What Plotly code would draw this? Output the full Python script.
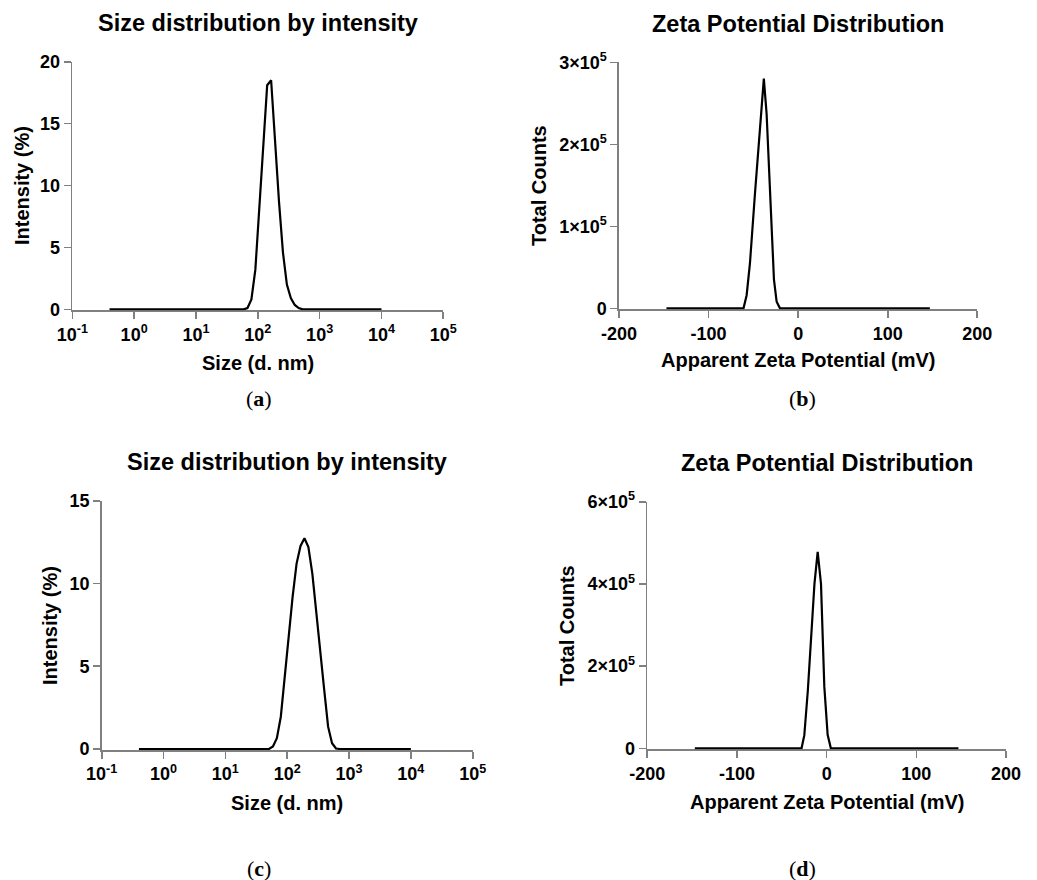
import plotly.graph_objects as go

# ---------------- data ----------------
# (a) size distribution by intensity
size_a = [0.4, 58.77, 68.06, 78.82, 91.28, 105.7, 122.4, 141.8, 164.2, 190.1,
          220.2, 255.0, 295.3, 342.0, 396.1, 458.7, 531.2, 10000]
intensity_a = [0, 0, 0.1, 0.8, 3.2, 8.2, 13.9, 18.1, 18.5, 13.3,
               8.7, 4.6, 2.0, 0.9, 0.35, 0.1, 0, 0]

# (c) size distribution by intensity
size_c = [0.4, 50.75, 58.77, 68.06, 78.82, 91.28, 105.7, 122.4, 141.8, 164.2,
          190.1, 220.2, 255.0, 295.3, 342.0, 396.1, 458.7, 531.2, 615.1, 712.4, 10000]
intensity_c = [0, 0, 0.15, 0.65, 1.95, 4.4, 7.0, 9.2, 11.2, 12.27,
               12.73, 12.2, 10.6, 8.4, 6.0, 3.6, 1.35, 0.35, 0.03, 0, 0]

# (b) zeta potential distribution
zeta_b = [-147, -61, -57.5, -53.8, -48.2, -44.5, -38.3, -35.2, -30.7, -27.0, -24.0, -20.3, 147]
counts_b = [0, 0, 16000, 55000, 140000, 197000, 280000, 237000, 116000, 35000, 8000, 0, 0]

# (d) zeta potential distribution
zeta_d = [-147, -28, -24.9, -21.0, -17.3, -13.6, -10.0, -6.3, -2.6, 1.1, 4.7, 147]
counts_d = [0, 0, 32000, 140000, 270000, 400000, 478000, 400000, 150000, 33000, 0, 0]

# ticks
size_tickvals = [0.1, 1, 10, 100, 1000, 10000, 100000]
size_ticktext = ["10<sup>-1</sup>", "10<sup>0</sup>", "10<sup>1</sup>", "10<sup>2</sup>",
                 "10<sup>3</sup>", "10<sup>4</sup>", "10<sup>5</sup>"]
int_a_ticks = [0, 5, 10, 15, 20]
int_c_ticks = [0, 5, 10, 15]
zeta_ticks = [-200, -100, 0, 100, 200]
zeta_ticktext = ["-200", "-100", "0", "100", "200"]
counts_b_ticks = [0, 100000, 200000, 300000]
counts_b_text = ["0", "1×10<sup>5</sup>", "2×10<sup>5</sup>", "3×10<sup>5</sup>"]
counts_d_ticks = [0, 200000, 400000, 600000]
counts_d_text = ["0", "2×10<sup>5</sup>", "4×10<sup>5</sup>", "6×10<sup>5</sup>"]

title_size = "Size distribution by intensity"
title_zeta = "Zeta Potential Distribution"
xlabel_size = "Size (d. nm)"
xlabel_zeta = "Apparent Zeta Potential (mV)"
ylabel_size = "Intensity (%)"
ylabel_zeta = "Total Counts"

# ---------------- layout helpers ----------------
W, H = 1037, 880
SANS = "Liberation Sans"
GRAY = "#808080"


def xdom(l, r):
    return [l / W, r / W]


def ydom(t, b):
    return [1 - b / H, 1 - t / H]


def px(x):
    return x / W


def py(y):
    return 1 - y / H


axis_common = dict(
    showline=True, linecolor=GRAY, linewidth=1.6,
    ticks="outside", ticklen=7, tickwidth=1.6, tickcolor=GRAY,
    showgrid=False, zeroline=False, layer="below traces", automargin=False,
    tickfont=dict(family=SANS, size=18, color="black", weight="bold"),
    fixedrange=True,
)

fig = go.Figure()
line = dict(color="black", width=2.2)
fig.add_trace(go.Scatter(x=size_a, y=intensity_a, mode="lines", line=line, xaxis="x", yaxis="y"))
fig.add_trace(go.Scatter(x=zeta_b, y=counts_b, mode="lines", line=line, xaxis="x2", yaxis="y2"))
fig.add_trace(go.Scatter(x=size_c, y=intensity_c, mode="lines", line=line, xaxis="x3", yaxis="y3"))
fig.add_trace(go.Scatter(x=zeta_d, y=counts_d, mode="lines", line=line, xaxis="x4", yaxis="y4"))

layout = dict(
    width=W, height=H, margin=dict(l=0, r=0, t=0, b=0, autoexpand=False),
    paper_bgcolor="white", plot_bgcolor="white", showlegend=False,
    xaxis=dict(axis_common, type="log", range=[-1, 5], domain=xdom(72.3, 443.3), anchor="y",
               tickmode="array", tickvals=size_tickvals, ticktext=size_ticktext),
    yaxis=dict(axis_common, range=[-0.08, 20], domain=ydom(61.7, 310.3), anchor="x",
               tickmode="array", tickvals=int_a_ticks),
    xaxis2=dict(axis_common, range=[-200, 200], domain=xdom(619, 977.3), anchor="y2",
                tickmode="array", tickvals=zeta_ticks, ticktext=zeta_ticktext),
    yaxis2=dict(axis_common, range=[-1200, 300000], domain=ydom(62.3, 309.3), anchor="x2",
                tickmode="array", tickvals=counts_b_ticks, ticktext=counts_b_text),
    xaxis3=dict(axis_common, type="log", range=[-1, 5], domain=xdom(101.7, 472.7), anchor="y3",
                tickmode="array", tickvals=size_tickvals, ticktext=size_ticktext),
    yaxis3=dict(axis_common, range=[-0.06, 15], domain=ydom(500.7, 750), anchor="x3",
                tickmode="array", tickvals=int_c_ticks),
    xaxis4=dict(axis_common, range=[-200, 200], domain=xdom(647.3, 1006), anchor="y4",
                tickmode="array", tickvals=zeta_ticks, ticktext=zeta_ticktext),
    yaxis4=dict(axis_common, range=[-2400, 600000], domain=ydom(501.7, 749.3), anchor="x4",
                tickmode="array", tickvals=counts_d_ticks, ticktext=counts_d_text),
)
fig.update_layout(**layout)


def ann(text, x, y, size, family=SANS, angle=0, bold=True):
    fig.add_annotation(
        text=text, x=px(x), y=py(y), xref="paper", yref="paper",
        xanchor="center", yanchor="middle", showarrow=False, textangle=angle,
        font=dict(family=family, size=size, color="black", weight="bold" if bold else "normal"),
    )


# titles
ann(title_size, 258, 23, 23.5)
ann(title_zeta, 798, 24, 23.5)
ann(title_size, 287, 462, 23.5)
ann(title_zeta, 827, 463, 23.5)
# x axis titles
ann(xlabel_size, 258, 363, 20)
ann(xlabel_zeta, 798, 360, 20)
ann(xlabel_size, 287, 803, 20)
ann(xlabel_zeta, 827, 802, 20)
# y axis titles
ann(ylabel_size, 22, 186, 20, angle=-90)
ann(ylabel_zeta, 539, 186, 20, angle=-90)
ann(ylabel_size, 50, 626, 20, angle=-90)
ann(ylabel_zeta, 567, 626, 20, angle=-90)
# panel labels
SERIF = "Liberation Serif"
ann("(<b>a</b>)", 259, 398, 22, family=SERIF, bold=False)
ann("(<b>b</b>)", 802, 398, 22, family=SERIF, bold=False)
ann("(<b>c</b>)", 259, 868, 22, family=SERIF, bold=False)
ann("(<b>d</b>)", 802, 868, 22, family=SERIF, bold=False)

fig.write_html(
    "out.html",
    config={"displayModeBar": False, "staticPlot": True},
    post_script="document.body.style.margin='0';document.body.style.overflow='hidden';",
)
